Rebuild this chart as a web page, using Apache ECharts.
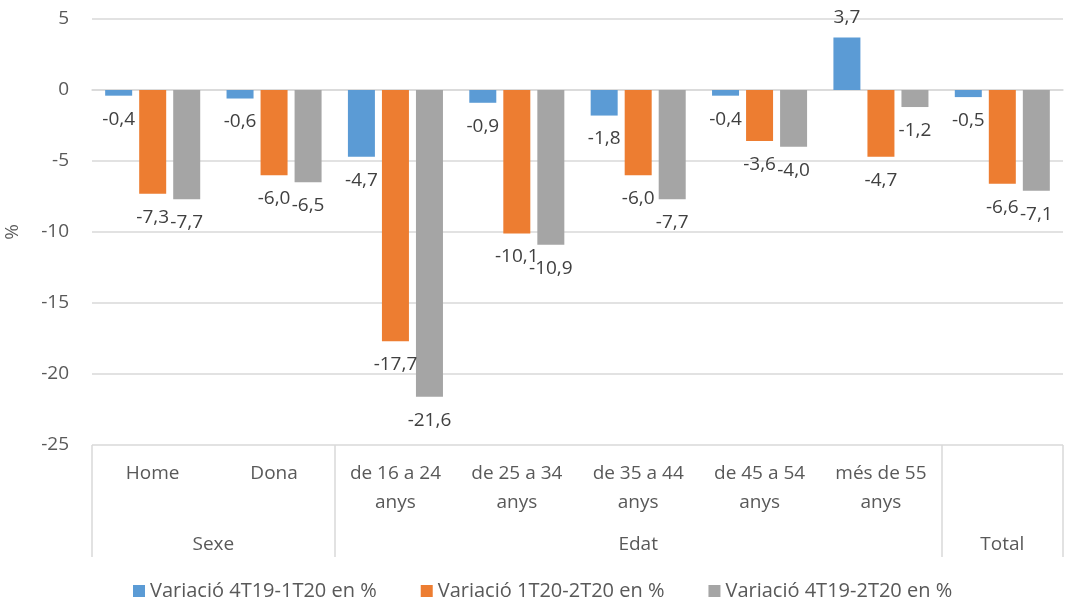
<!DOCTYPE html>
<html>
<head>
<meta charset="utf-8">
<script src="https://cdn.jsdelivr.net/npm/echarts@6/dist/echarts.min.js"></script>
<style>
  html, body { margin: 0; padding: 0; background: #fff; }
  #chart { width: 1067px; height: 603px; }
</style>
</head>
<body>
<div id="chart"></div>
<script>
// categories (first level) and groups (second level)
var categories = ['Home', 'Dona', 'de 16 a 24\nanys', 'de 25 a 34\nanys', 'de 35 a 44\nanys', 'de 45 a 54\nanys', 'més de 55\nanys', ''];
var groupNames = ['Sexe', 'Edat', 'Total'];
var groupSpans = [[0, 2], [2, 7], [7, 8]];

var seriesNames = ['Variació 4T19-1T20 en %', 'Variació 1T20-2T20 en %', 'Variació 4T19-2T20 en %'];
var var4T19_1T20 = [-0.4, -0.6, -4.7, -0.9, -1.8, -0.4, 3.7, -0.5];
var var1T20_2T20 = [-7.3, -6.0, -17.7, -10.1, -6.0, -3.6, -4.7, -6.6];
var var4T19_2T20 = [-7.7, -6.5, -21.6, -10.9, -7.7, -4.0, -1.2, -7.1];

var yTicks = [-25, -20, -15, -10, -5, 0, 5];
var colors = ['#5B9BD5', '#ED7D31', '#A5A5A5'];

var font = 'Open Sans';
var fs = 19;
var chart = echarts.init(document.getElementById('chart'));

function barData(values) {
    // label under the bar end when negative, above when positive
    return values.map(function (v) {
        return {
            value: v,
            label: v < 0 ? { position: 'bottom', distance: 14 } : { position: 'top', distance: 10 }
        };
    });
}

var groupCenters = groupSpans.map(function (s) { return (s[0] + s[1]) / 2; });
var groupEdges = [0];
groupSpans.forEach(function (s) { groupEdges.push(s[1]); });

var option = {
    animation: false,
    color: colors,
    textStyle: { fontFamily: font },
    grid: { left: 92, right: 4, top: 19, bottom: 158, outerBoundsMode: 'none' },
    legend: {
        data: seriesNames,
        top: 576,
        left: 128,
        icon: 'rect',
        itemWidth: 12,
        itemHeight: 12,
        itemGap: 44,
        textStyle: { fontFamily: font, fontSize: 20, color: '#595959' }
    },
    xAxis: [
        {
            type: 'category',
            data: categories,
            axisLine: { lineStyle: { color: '#d9d9d9', width: 1.5 } },
            axisTick: { show: false },
            axisLabel: {
                interval: 0,
                margin: 14,
                fontFamily: font,
                fontSize: fs,
                lineHeight: 29,
                color: '#595959'
            },
            splitLine: { show: false }
        },
        {
            type: 'value',
            position: 'bottom',
            min: 0,
            max: categories.length,
            axisLine: { show: false },
            axisTick: {
                show: true,
                customValues: groupEdges,
                length: 112,
                lineStyle: { color: '#d9d9d9', width: 1.5 }
            },
            axisLabel: {
                customValues: groupCenters,
                margin: 90,
                fontFamily: font,
                fontSize: fs,
                color: '#595959',
                formatter: function (v) {
                    var i = groupCenters.indexOf(v);
                    return i >= 0 ? groupNames[i] : '';
                }
            },
            splitLine: { show: false }
        }
    ],
    yAxis: {
        type: 'value',
        min: yTicks[0],
        max: yTicks[yTicks.length - 1],
        interval: 5,
        name: '%',
        nameLocation: 'middle',
        nameGap: 70,
        nameTextStyle: { fontFamily: font, fontSize: fs, color: '#595959' },
        axisLine: { show: false },
        axisTick: { show: false },
        axisLabel: { margin: 23, fontFamily: font, fontSize: fs, color: '#595959' },
        splitLine: { lineStyle: { color: '#d9d9d9', width: 1.5 } }
    },
    series: [var4T19_1T20, var1T20_2T20, var4T19_2T20].map(function (vals, i) {
        return {
            name: seriesNames[i],
            type: 'bar',
            xAxisIndex: 0,
            barWidth: 27,
            barGap: '26%',
            data: barData(vals),
            label: {
                show: true,
                fontFamily: font,
                fontSize: fs,
                color: '#404040',
                formatter: function (p) { return p.value.toFixed(1).replace('.', ','); }
            }
        };
    })
};

chart.setOption(option);
</script>
</body>
</html>
